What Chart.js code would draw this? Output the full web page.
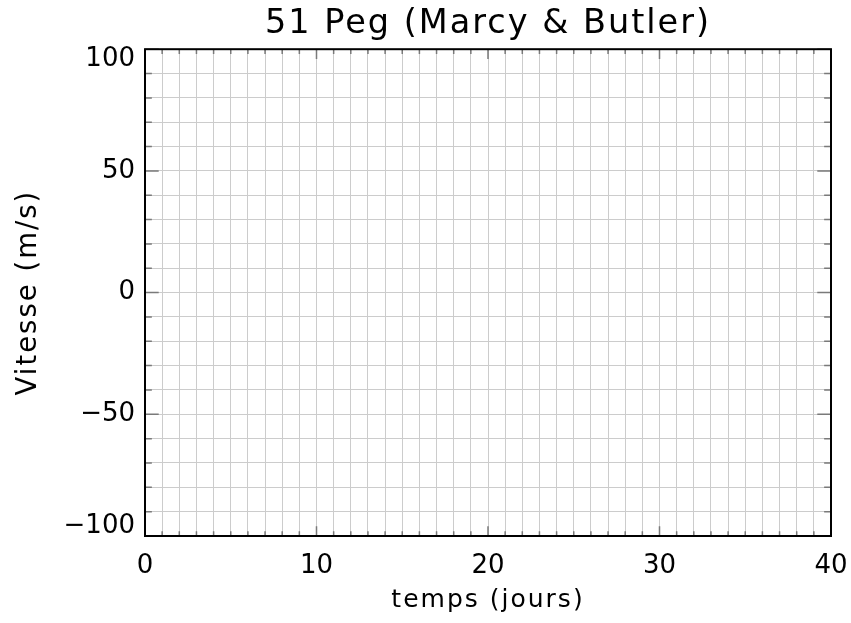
<!DOCTYPE html>
<html lang="fr">
<head>
<meta charset="utf-8">
<title>51 Peg (Marcy & Butler)</title>
<script src="https://cdn.jsdelivr.net/npm/chart.js@4.4.1/dist/chart.umd.min.js"></script>
<style>
  html, body { margin: 0; padding: 0; background: #fff; }
  #chart { display: block; }
</style>
</head>
<body>
<canvas id="chart" width="851" height="623"></canvas>
<script>
// --- Data -------------------------------------------------------------------
// The figure is an empty frame: no velocity points are drawn on it
const temps = []
const vitesse = []

// Axis ranges and ticks (temps in days, vitesse in m/s)
const xRange = [0, 40]
const xMajorTicks = [0, 10, 20, 30, 40]
const xTickLabels = ['0', '10', '20', '30', '40']
const xMinorStep = 1

const yRange = [-100, 100]
const yMajorTicks = [-100, -50, 0, 50, 100]
const yTickLabels = ['\u2212100', '\u221250', '0', '50', '100']
const yMinorStep = 10


// --- Plugin: IDL style frame with inward ticks -------------------------------
const frameTicks = {
    id: 'frameTicks',
    // Titles are drawn before the datasets, tick labels after (ticks.z = 1)
    beforeDraw(chart) {
        chart.ctx.letterSpacing = '2px'
    },
    beforeDatasetsDraw(chart) {
        chart.ctx.letterSpacing = '0px'
    },
    afterDraw(chart) {
        const { ctx, chartArea: a, scales: { x, y } } = chart
        // Major tick = 2% of the plot size, minor tick = half of that
        const xLen = (a.bottom - a.top) * 0.02
        const yLen = (a.right - a.left) * 0.02

        ctx.save()
        ctx.strokeStyle = '#7a7a7a'
        ctx.lineWidth = 1.5
        ctx.beginPath()
        x.ticks.forEach(t => {
            const px = x.getPixelForValue(t.value)
            const len = xMajorTicks.includes(t.value) ? xLen : xLen / 2
            ctx.moveTo(px, a.bottom)
            ctx.lineTo(px, a.bottom - len)
            ctx.moveTo(px, a.top)
            ctx.lineTo(px, a.top + len)
        })
        y.ticks.forEach(t => {
            const py = y.getPixelForValue(t.value)
            const len = yMajorTicks.includes(t.value) ? yLen : yLen / 2
            ctx.moveTo(a.left, py)
            ctx.lineTo(a.left + len, py)
            ctx.moveTo(a.right, py)
            ctx.lineTo(a.right - len, py)
        })
        ctx.stroke()

        ctx.strokeStyle = '#000'
        ctx.lineWidth = 2
        ctx.strokeRect(a.left, a.top, a.right - a.left, a.bottom - a.top)
        ctx.restore()
    }
}


// --- Chart ------------------------------------------------------------------
const font = 'DejaVu Sans'

new Chart(document.getElementById('chart'), {
    type: 'scatter',
    data: {
        datasets: [{
            label: 'Vitesse',
            data: temps.map((t, i) => ({ x: t, y: vitesse[i] })),
            pointRadius: 2,
            backgroundColor: '#000'
        }]
    },
    options: {
        responsive: false,
        animation: false,
        layout: { padding: { left: 0, right: 20, top: 0, bottom: 0 } },
        plugins: {
            legend: { display: false },
            tooltip: { enabled: false },
            title: {
                display: true,
                fullSize: false,   // centred over the plot, not the canvas
                text: '51 Peg (Marcy & Butler)',
                color: '#000',
                font: { family: font, size: 33.5, weight: 'normal' },
                padding: { top: 4, bottom: 5 }
            }
        },
        scales: {
            x: {
                type: 'linear',
                min: xRange[0],
                max: xRange[1],
                afterFit(scale) {
                    scale.height = 87
                    // the right margin comes from layout.padding only
                    scale.paddingLeft = 0
                    scale.paddingRight = 0
                },
                border: { display: false },
                grid: { color: '#cccccc', lineWidth: 1, drawTicks: false },
                ticks: {
                    stepSize: xMinorStep,
                    autoSkip: false,
                    maxRotation: 0,
                    padding: 15,
                    z: 1,
                    color: '#000',
                    font: { family: font, size: 26 },
                    callback(value) {
                        const i = xMajorTicks.indexOf(value)
                        return i >= 0 ? xTickLabels[i] : ''
                    }
                },
                title: {
                    display: true,
                    text: 'temps (jours)',
                    color: '#000',
                    font: { family: font, size: 25 },
                    padding: { top: 0, bottom: 8 }
                }
            },
            y: {
                type: 'linear',
                min: yRange[0],
                max: yRange[1],
                afterFit(scale) { scale.width = 145 },
                border: { display: false },
                grid: { color: '#cccccc', lineWidth: 1, drawTicks: false },
                ticks: {
                    stepSize: yMinorStep,
                    autoSkip: false,
                    padding: 10,
                    z: 1,
                    color: '#000',
                    font: { family: font, size: 26, lineHeight: 0.77 },
                    callback(value) {
                        const i = yMajorTicks.indexOf(value)
                        if (i < 0) return ''
                        // end labels are pushed inside the frame, as in the original plot
                        if (i === yMajorTicks.length - 1) return ['', yTickLabels[i]]
                        if (i === 0) return [yTickLabels[i], '']
                        return yTickLabels[i]
                    }
                },
                title: {
                    display: true,
                    text: 'Vitesse (m/s)',
                    color: '#000',
                    font: { family: font, size: 27.5 },
                    padding: { top: 12, bottom: 0 }
                }
            }
        }
    },
    plugins: [frameTicks]
})
</script>
</body>
</html>
